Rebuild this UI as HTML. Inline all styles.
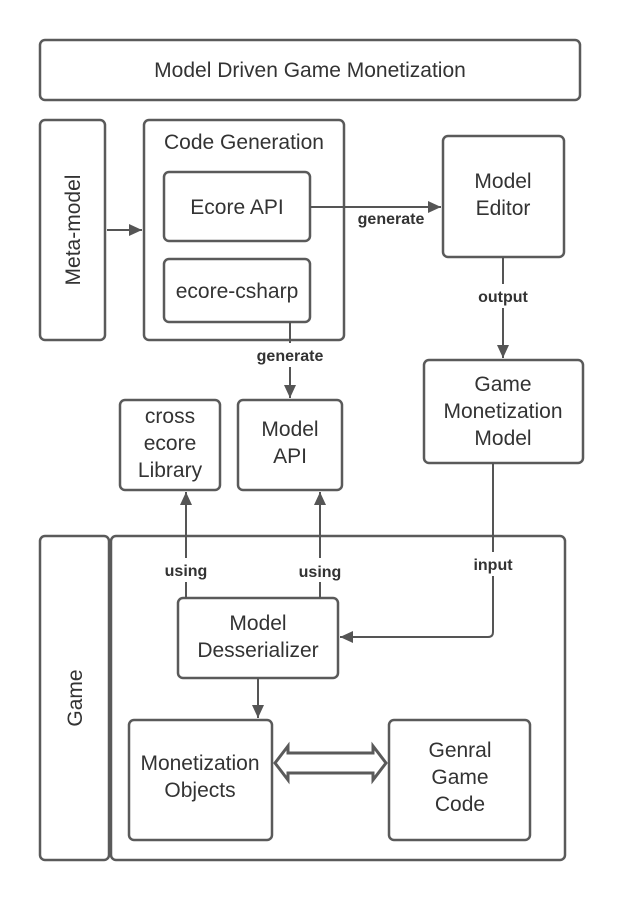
<!DOCTYPE html>
<html><head><style>body{margin:0;background:#fff}</style></head><body>
<svg width="620" height="900" xmlns="http://www.w3.org/2000/svg" font-family="Liberation Sans, sans-serif">
<defs><marker id="a" markerWidth="14" markerHeight="14" refX="13" refY="6" orient="auto" markerUnits="userSpaceOnUse"><path d="M0,0 L13,6 L0,12z" fill="#555"/></marker></defs>
<g fill="none" stroke="#5a5a5a" stroke-width="2.5">
<rect x="40" y="40" width="540" height="60" rx="5"/>
<rect x="40" y="120" width="65" height="220" rx="5"/>
<rect x="144" y="120" width="200" height="220" rx="5"/>
<rect x="164" y="172" width="146" height="69" rx="5"/>
<rect x="164" y="259" width="146" height="63" rx="5"/>
<rect x="443" y="136" width="121" height="121" rx="5"/>
<rect x="424" y="360" width="159" height="103" rx="5"/>
<rect x="120" y="400" width="100" height="90" rx="5"/>
<rect x="238" y="400" width="104" height="90" rx="5"/>
<rect x="40" y="536" width="69" height="324" rx="5"/>
<rect x="111" y="536" width="454" height="324" rx="5"/>
<rect x="178" y="598" width="160" height="80" rx="5"/>
<rect x="129" y="720" width="143" height="120" rx="5"/>
<rect x="389" y="720" width="141" height="120" rx="5"/>
<path d="M275,763 L288,746 L288,753 L373,753 L373,746 L386,763 L373,780 L373,773 L288,773 L288,780 Z" stroke-width="3"/>
</g>
<g stroke="#555" stroke-width="2" fill="none">
<line x1="107" y1="230" x2="142" y2="230" marker-end="url(#a)"/>
<line x1="310" y1="207" x2="441" y2="207" marker-end="url(#a)"/>
<line x1="503" y1="257" x2="503" y2="284"/><line x1="503" y1="308" x2="503" y2="358" marker-end="url(#a)"/>
<line x1="290" y1="322" x2="290" y2="343"/><line x1="290" y1="367" x2="290" y2="398" marker-end="url(#a)"/>
<line x1="186" y1="598" x2="186" y2="582"/><line x1="186" y1="558" x2="186" y2="492" marker-end="url(#a)"/>
<line x1="320" y1="598" x2="320" y2="582"/><line x1="320" y1="558" x2="320" y2="492" marker-end="url(#a)"/>
<path d="M493,463 L493,552 M493,576 L493,632 Q493,637 488,637 L340,637" marker-end="url(#a)"/>
<line x1="258" y1="678" x2="258" y2="718" marker-end="url(#a)"/>
</g>
<g fill="#333" font-size="21" text-anchor="middle">
<text x="310" y="77">Model Driven Game Monetization</text>
<text x="73" y="230" transform="rotate(-90 73 230)" dy="7">Meta-model</text>
<text x="244" y="149">Code Generation</text>
<text x="237" y="214">Ecore API</text>
<text x="237" y="298">ecore-csharp</text>
<text x="503" y="188">Model</text><text x="503" y="215">Editor</text>
<text x="503" y="391">Game</text><text x="503" y="418">Monetization</text><text x="503" y="445">Model</text>
<text x="170" y="423">cross</text><text x="170" y="450">ecore</text><text x="170" y="477">Library</text>
<text x="290" y="436">Model</text><text x="290" y="463">API</text>
<text x="75" y="698" transform="rotate(-90 75 698)" dy="7">Game</text>
<text x="258" y="630">Model</text><text x="258" y="657">Desserializer</text>
<text x="200" y="770">Monetization</text><text x="200" y="797">Objects</text>
<text x="460" y="757">Genral</text><text x="460" y="784">Game</text><text x="460" y="811">Code</text>
</g>
<g fill="#333" font-size="16" font-weight="bold" text-anchor="middle">
<text x="391" y="224">generate</text>
<text x="503" y="302">output</text>
<text x="290" y="361">generate</text>
<text x="186" y="576">using</text>
<text x="320" y="577">using</text>
<text x="493" y="570">input</text>
</g>
</svg>
</body></html>
